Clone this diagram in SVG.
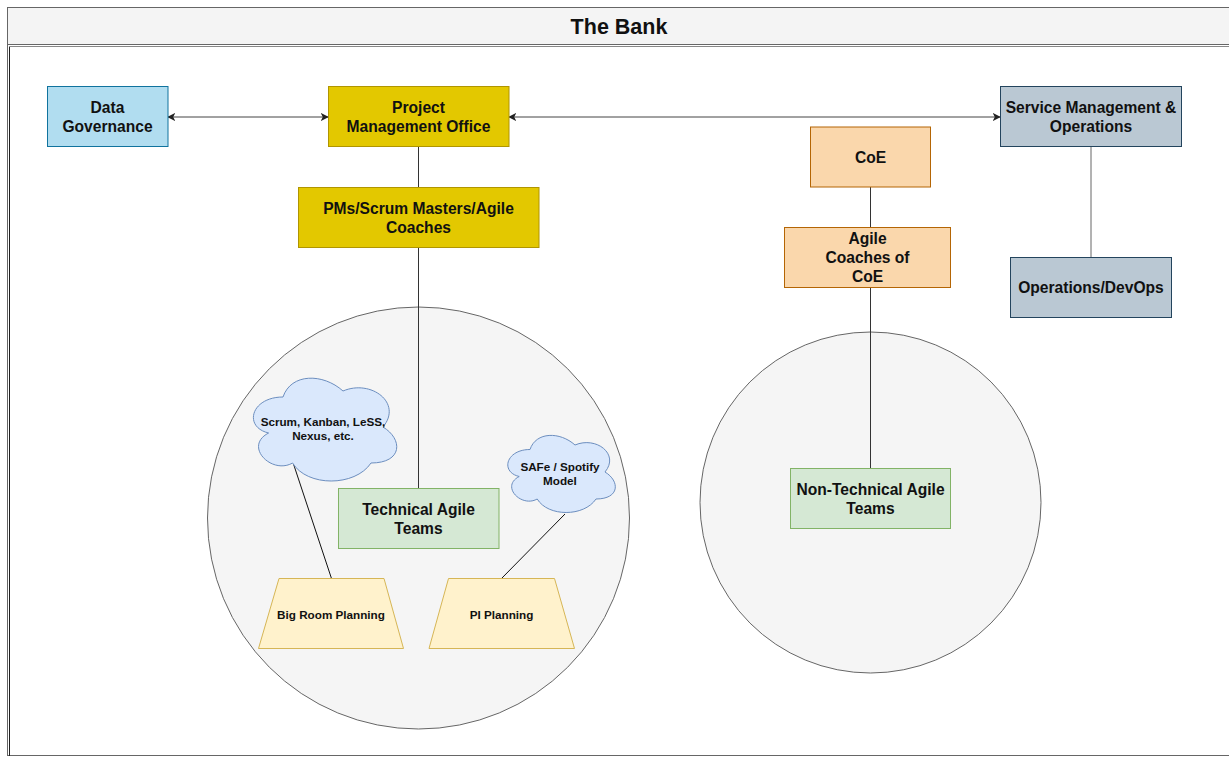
<svg xmlns="http://www.w3.org/2000/svg" width="1229" height="757" viewBox="0 0 1229 757">
<defs>
<style>
text{font-family:"Liberation Sans",Arial,Helvetica,sans-serif;font-weight:bold;fill:#111;text-anchor:middle;dominant-baseline:central}
.t{font-size:15.6px}
.s{font-size:11.7px}
.title{font-size:21.5px}
.blue{fill:#b1ddf0;stroke:#10739e;stroke-width:1}
.yel{fill:#e3c800;stroke:#b09500;stroke-width:1}
.gry{fill:#bac8d3;stroke:#23445d;stroke-width:1}
.org{fill:#fad7ac;stroke:#b46504;stroke-width:1}
.grn{fill:#d5e8d4;stroke:#82b366;stroke-width:1}
.pale{fill:#fff2cc;stroke:#d6b656;stroke-width:1}
.cloud{fill:#dae8fc;stroke:#6c8ebf;stroke-width:1}
.circ{fill:#f5f5f5;stroke:#666;stroke-width:1}
.ln{stroke:#333;stroke-width:1;fill:none}
.arr{stroke:#444;stroke-width:1;fill:none;marker-start:url(#ah);marker-end:url(#ah)}
</style>
<marker id="ah" viewBox="0 0 10 10" refX="9" refY="5" markerWidth="8" markerHeight="8" markerUnits="userSpaceOnUse" orient="auto-start-reverse">
<path d="M0,0 L10,5 L0,10 L2.5,5 Z" fill="#222"/>
</marker>
</defs>

<g id="lane">
<rect x="7.5" y="7.5" width="1240" height="748" fill="#fff" stroke="#666"/>
<rect x="8" y="8" width="1240" height="36.5" fill="#f4f4f4" stroke="none"/>
<line x1="8" y1="44.5" x2="1229" y2="44.5" stroke="#666"/>
<line x1="10" y1="46.5" x2="1229" y2="46.5" stroke="#888"/>
<line x1="9.5" y1="46.5" x2="9.5" y2="756" stroke="#222"/>
<text class="title" x="619" y="26.5">The Bank</text>
</g>

<g id="circle-left"><circle class="circ" cx="418.5" cy="518" r="211"/></g>
<g id="circle-right"><circle class="circ" cx="870.5" cy="502.5" r="170.5"/></g>

<g id="connectors">
<line class="arr" x1="168" y1="117" x2="328" y2="117"/>
<line class="arr" x1="509" y1="117" x2="1000" y2="117"/>
<line class="ln" x1="418.5" y1="147" x2="418.5" y2="187"/>
<line class="ln" x1="418.5" y1="247" x2="418.5" y2="488.5"/>
<line class="ln" x1="870.5" y1="187" x2="870.5" y2="227.5"/>
<line class="ln" x1="870.5" y1="287.5" x2="870.5" y2="468.5"/>
<line x1="1091" y1="147" x2="1091" y2="257.5" stroke="#666" stroke-width="1"/>
<line x1="293.5" y1="464" x2="331.5" y2="578.5" stroke="#111" stroke-width="1"/>
<line x1="565" y1="514" x2="501.5" y2="578.5" stroke="#111" stroke-width="1"/>
</g>

<g id="data-governance">
<rect class="blue" x="47.5" y="86.5" width="120.5" height="60"/>
<text class="t" x="107.5" y="107.5">Data</text>
<text class="t" x="107.5" y="126.5">Governance</text>
</g>

<g id="pmo">
<rect class="yel" x="328.5" y="86.5" width="180.5" height="60"/>
<text class="t" x="418.5" y="107.5">Project</text>
<text class="t" x="418.5" y="126.5">Management Office</text>
</g>

<g id="pms">
<rect class="yel" x="298.5" y="187.5" width="240.5" height="60"/>
<text class="t" x="418.5" y="208">PMs/Scrum Masters/Agile</text>
<text class="t" x="418.5" y="227">Coaches</text>
</g>

<g id="service-mgmt">
<rect class="gry" x="1000.5" y="86.5" width="181" height="60"/>
<text class="t" x="1091" y="107.5">Service Management &amp;</text>
<text class="t" x="1091" y="126.5">Operations</text>
</g>

<g id="ops-devops">
<rect class="gry" x="1010.5" y="257.5" width="161" height="60"/>
<text class="t" x="1091" y="287.5">Operations/DevOps</text>
</g>

<g id="coe">
<rect class="org" x="810.5" y="127" width="120" height="60"/>
<text class="t" x="870.5" y="157">CoE</text>
</g>

<g id="agile-coaches-coe">
<rect class="org" x="784.5" y="227.5" width="166" height="60"/>
<text class="t" x="867.5" y="238.5">Agile</text>
<text class="t" x="867.5" y="257.5">Coaches of</text>
<text class="t" x="867.5" y="276.5">CoE</text>
</g>

<g id="technical-teams">
<rect class="grn" x="338.5" y="488.5" width="160.5" height="60"/>
<text class="t" x="418.5" y="509">Technical Agile</text>
<text class="t" x="418.5" y="528">Teams</text>
</g>

<g id="non-technical-teams">
<rect class="grn" x="790.5" y="468.5" width="160" height="60"/>
<text class="t" x="870.5" y="489">Non-Technical Agile</text>
<text class="t" x="870.5" y="508">Teams</text>
</g>

<g id="cloud-scrum">
<path class="cloud" transform="translate(243,367) scale(160,120)" vector-effect="non-scaling-stroke" d="M0.25,0.25 C0.05,0.25 0,0.5 0.16,0.55 C0,0.66 0.18,0.9 0.31,0.8 C0.4,1 0.7,1 0.8,0.8 C1,0.8 1,0.6 0.875,0.5 C1,0.3 0.8,0.1 0.625,0.2 C0.5,0.05 0.3,0.05 0.25,0.25 Z"/>
<text class="s" x="323" y="421.5">Scrum, Kanban, LeSS,</text>
<text class="s" x="323" y="435.5">Nexus, etc.</text>
</g>

<g id="cloud-safe">
<path class="cloud" transform="translate(500,427) scale(120,90)" vector-effect="non-scaling-stroke" d="M0.25,0.25 C0.05,0.25 0,0.5 0.16,0.55 C0,0.66 0.18,0.9 0.31,0.8 C0.4,1 0.7,1 0.8,0.8 C1,0.8 1,0.6 0.875,0.5 C1,0.3 0.8,0.1 0.625,0.2 C0.5,0.05 0.3,0.05 0.25,0.25 Z"/>
<text class="s" x="560" y="466.5">SAFe / Spotify</text>
<text class="s" x="560" y="480.5">Model</text>
</g>

<g id="big-room">
<path class="pale" d="M279,578.5 L384,578.5 L403.5,648.5 L258.5,648.5 Z"/>
<text class="s" x="331" y="614">Big Room Planning</text>
</g>

<g id="pi-planning">
<path class="pale" d="M448.5,578.5 L554.5,578.5 L574.5,648.5 L429,648.5 Z"/>
<text class="s" x="501.5" y="614">PI Planning</text>
</g>
</svg>
